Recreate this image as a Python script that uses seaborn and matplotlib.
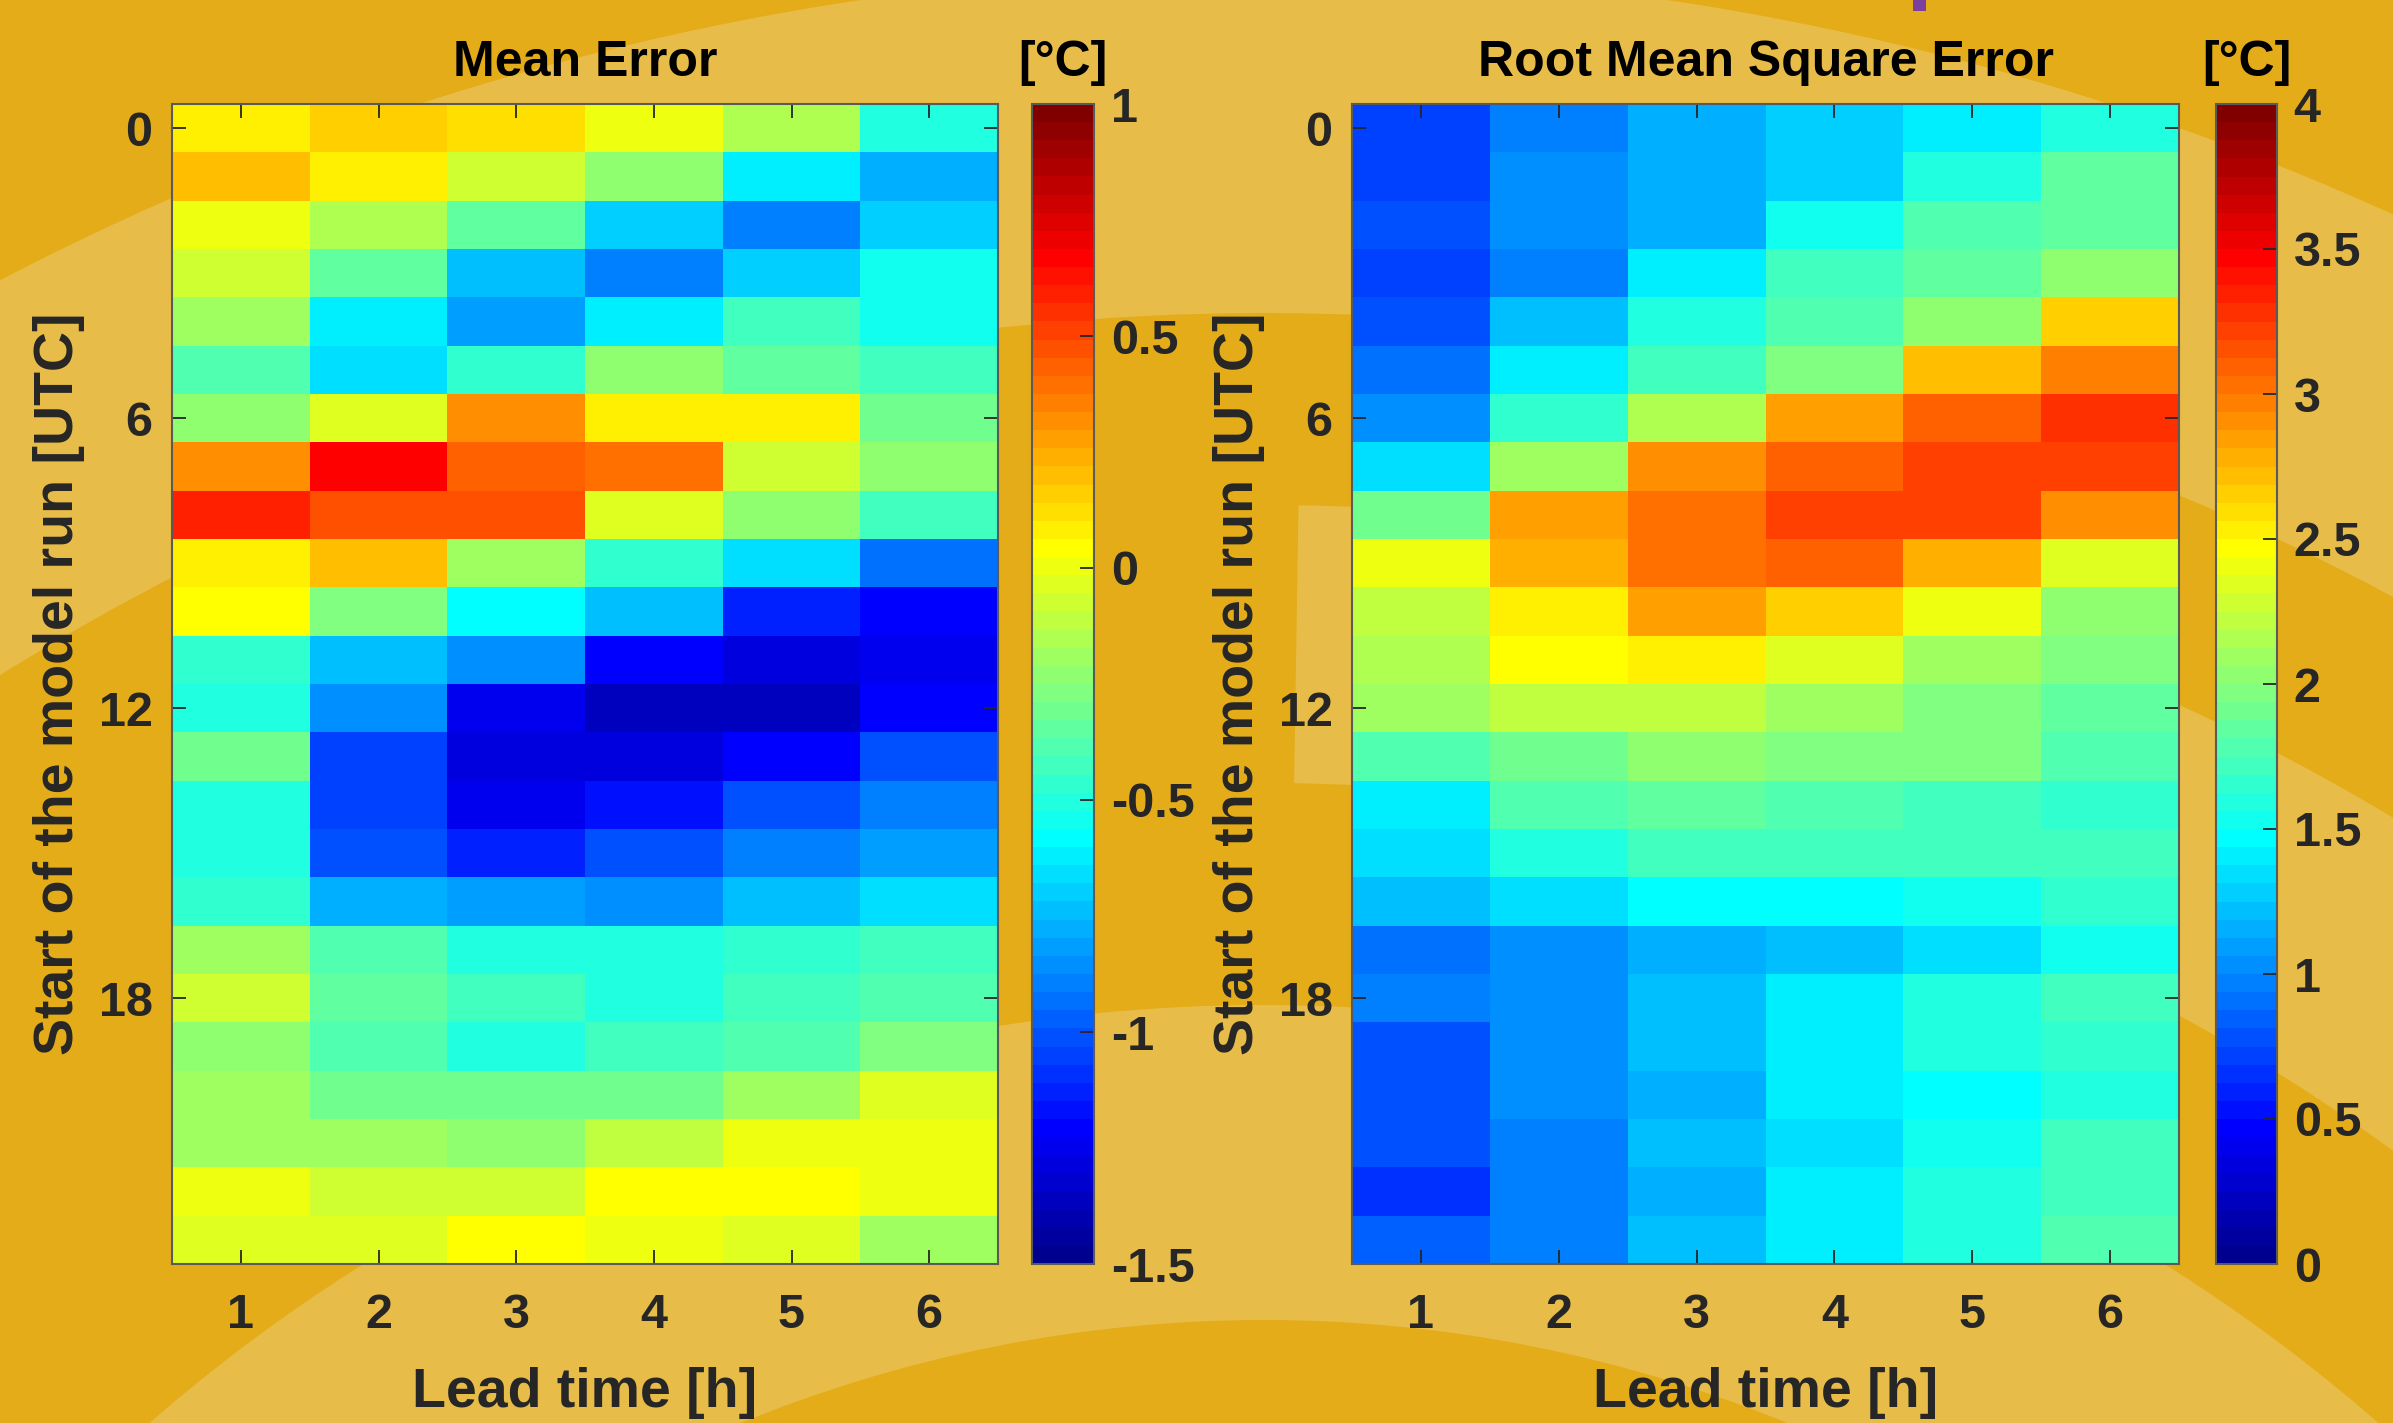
import matplotlib

matplotlib.use("Agg")
import matplotlib.pyplot as plt
import numpy as np
import pandas as pd
import seaborn as sns
from matplotlib.colors import ListedColormap
from matplotlib.patches import Rectangle, Wedge
from matplotlib.transforms import ScaledTranslation

# ---- data ------------------------------------------------------------------
RUN_HOURS = list(range(24))
LEAD_TIMES = [1, 2, 3, 4, 5, 6]

MEAN_ERROR = [
    [0.10, 0.17, 0.13, 0.00, -0.14, -0.50],
    [0.18, 0.08, -0.07, -0.22, -0.62, -0.77],
    [0.00, -0.15, -0.34, -0.70, -0.88, -0.70],
    [-0.09, -0.35, -0.75, -0.90, -0.70, -0.53],
    [-0.18, -0.62, -0.82, -0.62, -0.42, -0.53],
    [-0.39, -0.66, -0.46, -0.23, -0.34, -0.41],
    [-0.23, -0.03, 0.33, 0.09, 0.09, -0.29],
    [0.30, 0.67, 0.43, 0.40, -0.07, -0.22],
    [0.59, 0.48, 0.48, -0.03, -0.22, -0.41],
    [0.10, 0.20, -0.18, -0.46, -0.66, -0.95],
    [0.04, -0.27, -0.58, -0.74, -1.11, -1.19],
    [-0.46, -0.74, -0.86, -1.19, -1.29, -1.24],
    [-0.50, -0.86, -1.24, -1.38, -1.37, -1.19],
    [-0.29, -1.06, -1.30, -1.29, -1.19, -1.01],
    [-0.50, -1.06, -1.23, -1.17, -1.01, -0.89],
    [-0.50, -1.00, -1.11, -1.01, -0.91, -0.82],
    [-0.46, -0.77, -0.82, -0.86, -0.74, -0.65],
    [-0.19, -0.38, -0.50, -0.50, -0.46, -0.41],
    [-0.09, -0.34, -0.42, -0.50, -0.41, -0.38],
    [-0.24, -0.38, -0.50, -0.41, -0.40, -0.27],
    [-0.19, -0.30, -0.30, -0.30, -0.19, -0.03],
    [-0.19, -0.19, -0.23, -0.11, -0.01, -0.01],
    [0.00, -0.09, -0.07, 0.04, 0.04, -0.01],
    [-0.04, -0.04, 0.04, -0.01, -0.04, -0.19],
]

RMSE = [
    [0.74, 0.96, 1.15, 1.27, 1.41, 1.60],
    [0.74, 1.02, 1.15, 1.27, 1.60, 1.86],
    [0.80, 1.02, 1.15, 1.53, 1.78, 1.86],
    [0.72, 0.96, 1.41, 1.74, 1.84, 2.03],
    [0.80, 1.21, 1.60, 1.80, 2.03, 2.67],
    [0.90, 1.41, 1.74, 1.96, 2.73, 2.98],
    [1.02, 1.66, 2.16, 2.84, 3.09, 3.29],
    [1.33, 2.09, 2.92, 3.09, 3.21, 3.21],
    [1.92, 2.84, 3.04, 3.23, 3.23, 2.92],
    [2.39, 2.81, 3.04, 3.09, 2.81, 2.33],
    [2.23, 2.53, 2.84, 2.67, 2.39, 2.02],
    [2.16, 2.47, 2.55, 2.33, 2.09, 1.96],
    [2.09, 2.23, 2.23, 2.09, 1.96, 1.86],
    [1.78, 1.90, 2.03, 1.96, 1.96, 1.80],
    [1.39, 1.78, 1.86, 1.78, 1.72, 1.66],
    [1.33, 1.60, 1.72, 1.72, 1.72, 1.72],
    [1.21, 1.35, 1.47, 1.47, 1.55, 1.66],
    [0.88, 1.03, 1.15, 1.21, 1.35, 1.55],
    [0.96, 1.06, 1.21, 1.41, 1.60, 1.72],
    [0.76, 1.02, 1.21, 1.41, 1.60, 1.66],
    [0.76, 1.02, 1.15, 1.41, 1.47, 1.60],
    [0.76, 0.96, 1.21, 1.35, 1.55, 1.74],
    [0.68, 0.96, 1.15, 1.41, 1.60, 1.74],
    [0.82, 0.96, 1.21, 1.41, 1.60, 1.80],
]

ME_RANGE = (-1.5, 1.0)
RMSE_RANGE = (0.0, 4.0)
ME_TICKS = [-1.5, -1.0, -0.5, 0.0, 0.5, 1.0]
RMSE_TICKS = [0.0, 0.5, 1.0, 1.5, 2.0, 2.5, 3.0, 3.5, 4.0]

DARK_BG = "#E3AC18"
LIGHT_BG = "#E8BC48"
TEXT = "#262626"


def matlab_jet(n: int = 64) -> ListedColormap:
    m = int(np.ceil(n / 4))
    u = np.concatenate([np.arange(1, m + 1) / m, np.ones(m - 1), np.arange(m, 0, -1) / m])
    g = int(np.ceil(m / 2)) - int(n % 4 == 1) + np.arange(1, len(u) + 1)
    r = g + m
    b = g - m
    g, r, b = g[g <= n], r[r <= n], b[b >= 1]
    rgb = np.zeros((n, 3))
    rgb[r - 1, 0] = u[: len(r)]
    rgb[g - 1, 1] = u[: len(g)]
    rgb[b - 1, 2] = u[len(u) - len(b):]
    return ListedColormap(rgb)


def draw_background(fig: plt.Figure, width: int, height: int) -> None:
    # slide template behind the figure: pale rings on orange
    bg = fig.add_axes([0, 0, 1, 1], zorder=-5)
    bg.set_xlim(0, width)
    bg.set_ylim(height, 0)
    bg.axis("off")
    centre = (1264, 2700)
    bg.add_patch(Wedge(centre, 2730, 0, 360, width=343, color=LIGHT_BG, lw=0))
    bg.add_patch(Wedge(centre, 2195, 270.9, 340, width=278, color=LIGHT_BG, lw=0))
    bg.add_patch(Wedge(centre, 1695, 0, 360, width=315, color=LIGHT_BG, lw=0))
    bg.add_patch(Rectangle((1913, 0), 13, 11, color="#7B3F9E", lw=0))


def draw_panel(fig, ax, cax, values, vrange, ticks, title, cmap):
    frame = pd.DataFrame(values, index=RUN_HOURS, columns=LEAD_TIMES)
    sns.heatmap(
        frame,
        ax=ax,
        cbar_ax=cax,
        cmap=cmap,
        vmin=vrange[0],
        vmax=vrange[1],
        xticklabels=True,
        yticklabels=6,
    )
    for spine in ax.spines.values():
        spine.set_visible(True)
        spine.set_color("#5a5a5a")
        spine.set_linewidth(1.5)
    ax.tick_params(axis="both", direction="in", length=10, width=1.3, color=TEXT,
                   top=True, right=True, labelcolor=TEXT, labelsize=35)
    ax.tick_params(axis="x", pad=21)
    ax.tick_params(axis="y", pad=14)
    ax.set_xticklabels([str(v) for v in LEAD_TIMES], rotation=0, fontweight="bold")
    ax.set_yticklabels(["0", "6", "12", "18"], rotation=0, fontweight="bold")
    shift = ScaledTranslation(0, -4 / 72, fig.dpi_scale_trans)
    for lab in ax.get_yticklabels():
        lab.set_transform(lab.get_transform() + shift)
    ax.set_title(title, fontsize=36, fontweight="bold", color="black", pad=20)
    ax.set_xlabel("Lead time [h]", fontsize=40, fontweight="bold", color=TEXT)
    ax.set_ylabel("Start of the model run [UTC]", fontsize=40, fontweight="bold", color=TEXT)
    ax.xaxis.set_label_coords(0.5, -0.089)
    ax.yaxis.set_label_coords(-0.105, 0.5)

    cb = ax.collections[0].colorbar
    cb.outline.set_linewidth(1.5)
    cb.outline.set_edgecolor("#5a5a5a")
    cb.set_ticks(ticks)
    cb.set_ticklabels([f"{t:g}" for t in ticks])
    cax.tick_params(direction="in", length=10, width=1.3, color=TEXT, left=False, right=True,
                    labelright=True, labelleft=False, labelsize=35, labelcolor=TEXT, pad=12)
    for lab in cax.get_yticklabels():
        lab.set_fontweight("bold")
    cax.set_title("[°C]", fontsize=36, fontweight="bold", color="black", pad=20)


def main() -> None:
    plt.rcParams["font.family"] = ["Liberation Sans", "DejaVu Sans"]
    plt.rcParams["axes.unicode_minus"] = False

    width, height = 2393, 1423
    fig = plt.figure(figsize=(width / 100, height / 100), dpi=100, facecolor=DARK_BG)
    draw_background(fig, width, height)

    bottom, top = 1 - 1264 / height, 1160 / height
    ax_me = fig.add_axes([172 / width, bottom, 826 / width, top])
    cax_me = fig.add_axes([1032 / width, bottom, 62 / width, top])
    ax_rmse = fig.add_axes([1352 / width, bottom, 827 / width, top])
    cax_rmse = fig.add_axes([2216 / width, bottom, 61 / width, top])

    cmap = matlab_jet(64)
    draw_panel(fig, ax_me, cax_me, MEAN_ERROR, ME_RANGE, ME_TICKS, "Mean Error", cmap)
    draw_panel(fig, ax_rmse, cax_rmse, RMSE, RMSE_RANGE, RMSE_TICKS,
               "Root Mean Square Error", cmap)

    fig.savefig("out.png", dpi=100, facecolor=fig.get_facecolor())
    plt.close(fig)


if __name__ == "__main__":
    main()
